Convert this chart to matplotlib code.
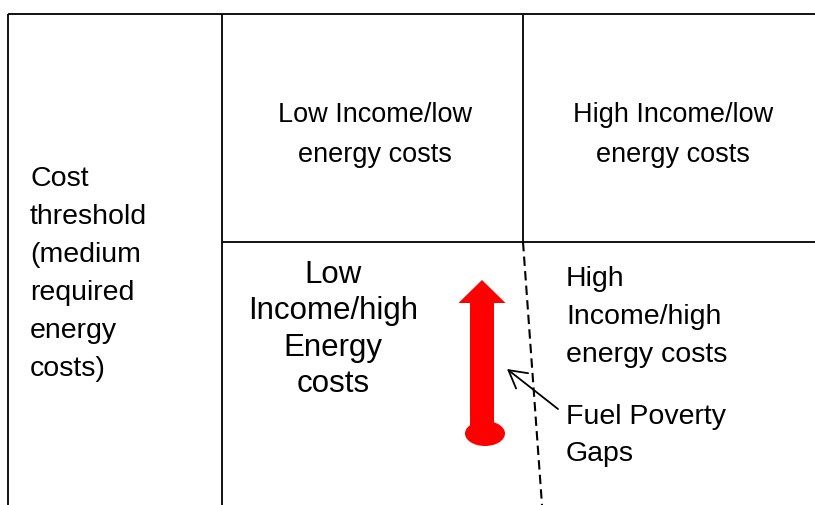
"""Schema des ecarts de precarite energetique (quadrants revenu / cout)."""

import matplotlib

matplotlib.use("Agg")

import matplotlib.pyplot as plt
from matplotlib.patches import Ellipse, Polygon

plt.rcParams["font.family"] = ["Liberation Sans", "DejaVu Sans"]

# quadrant labels: (lines, x, first baseline, line step, alignment, size in pt)
LABELS = [
    (["Low Income/low", "energy costs"], 375, 122, 40, "center", 19.5),
    (["High Income/low", "energy costs"], 673, 122, 40, "center", 19.5),
    (["Cost", "threshold", "(medium", "required", "energy", "costs)"],
     30, 186, 38, "left", 20.5),
    (["Low", "Income/high", "Energy", "costs"], 333, 283, 36.5, "center", 22.5),
    (["High", "Income/high", "energy costs"], 566, 286, 38, "left", 20.5),
    (["Fuel Poverty", "Gaps"], 566, 424, 37, "left", 20.5),
]

# grid lines (pixel space, y downwards)
GRID_SEGMENTS = [
    ((8, 815), (15, 15)),
    ((8, 8), (15, 506)),
    ((222, 222), (15, 506)),
    ((523, 523), (15, 243)),
    ((222, 815), (243, 243)),
]

DASHED_X = [523, 542]
DASHED_Y = [243, 506]

# red upward arrow
ARROW_TIP = (482, 281)
ARROW_HEAD_BASE = 304
ARROW_HEAD_HALF = 23.5
ARROW_SHAFT_HALF = 12
ARROW_TAIL = 434
TAIL_BLOB = (485, 434.5, 40, 25)

# pointer from label to the gap
POINTER_FROM = (558, 410)
POINTER_TO = (507, 370)


def main():
    fig = plt.figure(figsize=(8.15, 5.06), dpi=100)
    ax = fig.add_axes([0, 0, 1, 1])
    ax.set_xlim(0, 815)
    ax.set_ylim(506, 0)
    ax.axis("off")

    for xs, ys in GRID_SEGMENTS:
        ax.plot(xs, ys, color="#111111", lw=1.4, solid_capstyle="butt")

    ax.plot(
        DASHED_X,
        DASHED_Y,
        color="black",
        lw=1.5,
        linestyle=(0, (4.5, 2.5)),
    )

    tip_x, tip_y = ARROW_TIP
    body = [
        (tip_x, tip_y),
        (tip_x + ARROW_HEAD_HALF, ARROW_HEAD_BASE),
        (tip_x + ARROW_SHAFT_HALF, ARROW_HEAD_BASE),
        (tip_x + ARROW_SHAFT_HALF, ARROW_TAIL),
        (tip_x - ARROW_SHAFT_HALF, ARROW_TAIL),
        (tip_x - ARROW_SHAFT_HALF, ARROW_HEAD_BASE),
        (tip_x - ARROW_HEAD_HALF, ARROW_HEAD_BASE),
    ]
    ax.add_patch(Polygon(body, closed=True, color="#ff0000", lw=0))
    cx, cy, w, h = TAIL_BLOB
    ax.add_patch(Ellipse((cx, cy), w, h, color="#ff0000", lw=0))

    ax.annotate(
        "",
        xy=POINTER_TO,
        xytext=POINTER_FROM,
        arrowprops=dict(
            arrowstyle="->,head_length=1.25,head_width=0.7",
            color="black",
            lw=1.3,
            shrinkA=0,
            shrinkB=0,
        ),
    )

    for lines, x, base, step, align, size in LABELS:
        for i, line in enumerate(lines):
            ax.text(
                x,
                base + i * step,
                line,
                ha=align,
                va="baseline",
                fontsize=size,
                color="black",
            )

    fig.savefig("out.png", dpi=100)
    plt.close(fig)


if __name__ == "__main__":
    main()
